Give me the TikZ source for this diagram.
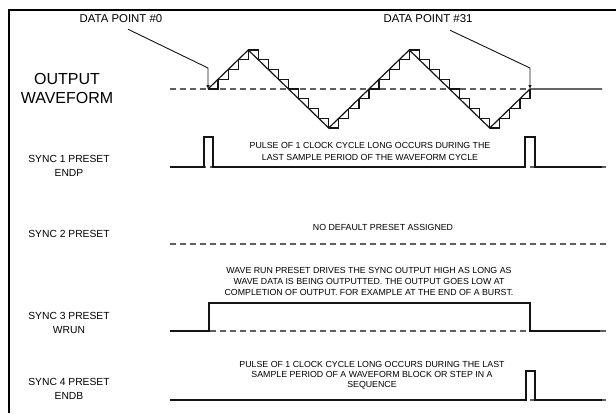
\documentclass[tikz,border=0pt]{standalone}
\usepackage{fontspec}
\setmainfont{Liberation Sans}
\usetikzlibrary{arrows.meta}
\definecolor{ink}{RGB}{20,20,20}
\definecolor{dash}{RGB}{95,95,95}
\tikzset{
  >={Latex[length=4pt,width=3.5pt]},
  sig/.style={draw=ink,line width=1.2pt},
  refline/.style={draw=dash,line width=1.2pt,dash pattern=on 6pt off 4pt},
  lead/.style={->,draw=ink,line width=0.9pt},
  chan/.style={font=\fontsize{10.3}{14}\selectfont,align=center,inner sep=0pt},
  big/.style={font=\fontsize{16}{19}\selectfont,align=center,inner sep=0pt},
  note/.style={font=\fontsize{8.8}{#1}\selectfont,align=center,inner sep=0pt},
  note/.default=11.5,
}
\begin{document}
\begin{tikzpicture}[x=1pt,y=-1pt]
    \useasboundingbox (0,0) rectangle (616,413);
    % frame
    \draw[line width=1.5pt] (9,413) -- (9,10) -- (616,10);
    % channel names
    \node[big] (out) at (67,88.5) {OUTPUT\\WAVEFORM};
    \node[chan] (s1) at (69,166) {SYNC 1 PRESET\\ENDP};
    \node[chan] (s2) at (69,234) {SYNC 2 PRESET};
    \node[chan] (s3) at (69,322.5) {SYNC 3 PRESET\\WRUN};
    \node[chan] (s4) at (69,389) {SYNC 4 PRESET\\ENDB};
    % output waveform
    \coordinate (p0) at (208,89);
    \coordinate (p31) at (530,89);
    \draw[refline] (170,89) -- (p31);
    \draw[sig] (p0) -- (248.25,50) -- (328.75,128) -- (409.25,50) -- (489.75,128) -- (p31) -- (602,89);
    \foreach \f [count=\i from 0, remember=\f as \g (initially 0)] in
      {1,2,3,4,3,2,1,0,-1,-2,-3,-4,-3,-2,-1,0,1,2,3,4,3,2,1,0,-1,-2,-3,-4,-3,-2,-1,0}
      \draw[sig] ({208+\i*10.0625},{89-\g*9.75}) -| ({208+(\i+1)*10.0625},{89-\f*9.75});
    \node[chan,font=\fontsize{11.4}{14}\selectfont] (dp0) at (121,19) {DATA POINT \#0};
    \node[chan,font=\fontsize{11.4}{14}\selectfont] (dp31) at (428,19) {DATA POINT \#31};
    \draw[lead] ([xshift=7pt,yshift=-6pt]dp0.south) -- (208,68) -- (p0);
    \draw[lead] ([xshift=22pt,yshift=-7pt]dp31.south) -- (530,68) -- (p31);
    % sync 1
    \draw[refline] (170,167) -- (608,167);
    \draw[sig] (170,167) -- (204,167) -- (204,137) -- (213,137) -- (213,167) -- (525,167)
      -- (525,137) -- (535,137) -- (535,167) -- (602,167);
    \node[note=12] (n1) at (370,151) {PULSE OF 1 CLOCK CYCLE LONG OCCURS DURING THE\\LAST SAMPLE PERIOD OF THE WAVEFORM CYCLE};
    % sync 2
    \draw[refline] (170,244) -- (608,244);
    \node[note] (n2) at (383,227) {NO DEFAULT PRESET ASSIGNED};
    % sync 3
    \draw[refline] (170,331) -- (608,331);
    \draw[sig] (170,331) -- (209,331) -- (209,303) -- (530,303) -- (530,331) -- (600,331);
    \node[note=10.8] (n3) at (369,281.5) {WAVE RUN PRESET DRIVES THE SYNC OUTPUT HIGH AS LONG AS\\WAVE DATA IS BEING OUTPUTTED. THE OUTPUT GOES LOW AT\\COMPLETION OF OUTPUT. FOR EXAMPLE AT THE END OF A BURST.};
    % sync 4
    \draw[refline] (170,400) -- (608,400);
    \draw[sig] (170,400) -- (526,400) -- (526,371) -- (535,371) -- (535,400) -- (602,400);
    \node[note=10.2] (n4) at (372,375) {PULSE OF 1 CLOCK CYCLE LONG OCCURS DURING THE LAST\\SAMPLE PERIOD OF A WAVEFORM BLOCK OR STEP IN A\\SEQUENCE};
\end{tikzpicture}
\end{document}
